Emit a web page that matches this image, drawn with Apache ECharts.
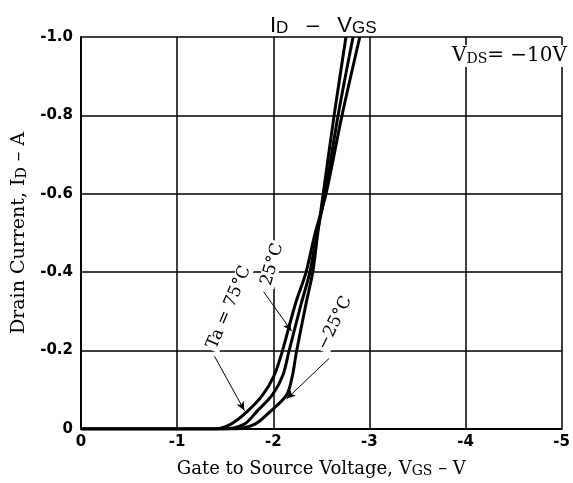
<!DOCTYPE html>
<html>
<head>
<meta charset="utf-8">
<script src="https://cdn.jsdelivr.net/npm/echarts@6/dist/echarts.min.js"></script>
<style>
  html, body { margin: 0; padding: 0; background: #fff; }
  #chart { width: 573px; height: 483px; }
</style>
</head>
<body>
<div id="chart"></div>
<script>
// ID - VGS transfer curves at VDS = -10V
const idLevels = [0, 0, -0.0125, -0.045, -0.087, -0.137, -0.195, -0.319, -0.399, -0.494, -0.601, -0.8, -1.0]
const vgsTa75 = [0, -1.39, -1.56, -1.73, -1.89, -2.01, -2.09, -2.23, -2.34, -2.43, -2.55, -2.715, -2.90]
const vgsTa25 = [0, -1.48, -1.70, -1.83, -1.99, -2.10, -2.16, -2.29, -2.38, -2.45, -2.54, -2.674, -2.83]
const vgsTaM25 = [0, -1.58, -1.81, -1.97, -2.14, -2.20, -2.24, -2.34, -2.41, -2.46, -2.52, -2.633, -2.756]
const tempLabels = ['Ta = 75°C', '25°C', '−25°C']

function pairs(xs) {
  return xs.map((x, i) => [x, idLevels[i]])
}

const serif = 'DejaVu Serif'
const sans = 'DejaVu Sans'

function leader(from, to, curveness) {
  return {
    silent: true,
    symbol: ['none', 'arrow'],
    symbolSize: [6, 9],
    label: { show: false },
    lineStyle: { color: '#000', width: 1, type: 'solid', curveness: curveness },
    data: [[{ coord: from }, { coord: to }]]
  }
}

function tag(text, at, rotate) {
  return {
    silent: true,
    symbol: 'circle',
    symbolSize: 0,
    label: {
      show: true, position: 'inside', formatter: text, rotate: rotate,
      color: '#000', fontFamily: serif, fontSize: 17,
      backgroundColor: '#fff', padding: [0, 2, 0, 2]
    },
    data: [{ coord: at }]
  }
}

// rich text styles with a lowered subscript
function richText(size, subSize, drop, family) {
  return {
    m: { fontFamily: family, fontSize: size, fontWeight: 'normal', lineHeight: size + 6, color: '#000', verticalAlign: 'bottom' },
    s: { fontFamily: family, fontSize: subSize, fontWeight: 'normal', color: '#000', padding: [drop, 0, 0, 0], verticalAlign: 'bottom' }
  }
}

const lineBase = {
  type: 'line',
  showSymbol: false,
  smooth: 0.3,
  lineStyle: { color: '#000', width: 3 },
  itemStyle: { color: '#000' },
  z: 3
}

const myChart = echarts.init(document.getElementById('chart'))
const option = {
  animation: false,
  backgroundColor: '#fff',
  title: [
    {
      text: '{m|I}{s|D}{m|   –   V}{s|GS}',
      left: 265, top: 4,
      textStyle: { fontWeight: 'normal', rich: richText(22, 17, 10, 'Liberation Sans') }
    },
    {
      text: '{m|V}{s|DS}{m|= −10V}',
      right: 4, top: 39,
      backgroundColor: '#fff',
      padding: [1, 2, 1, 2],
      textStyle: { fontWeight: 'normal', rich: richText(20, 14, 9, serif) }
    }
  ],
  grid: { left: 81, right: 4, top: 37, bottom: 45 },
  xAxis: {
    type: 'value',
    min: -5, max: 0, interval: 1,
    inverse: true,
    name: '{m|Gate to Source Voltage, V}{s|GS}{m| – V}',
    nameLocation: 'middle',
    nameGap: 25,
    nameTextStyle: { rich: richText(18, 14, 8, serif) },
    axisLine: { show: true, lineStyle: { color: '#000', width: 2 } },
    axisTick: { show: false },
    axisLabel: {
      color: '#000', fontFamily: sans, fontWeight: 'bold', fontSize: 15, margin: 6,
      formatter: v => (v === 0 ? '0' : String(v))
    },
    splitLine: { show: true, lineStyle: { color: '#000', width: 1.5 } }
  },
  yAxis: {
    type: 'value',
    min: -1, max: 0, interval: 0.2,
    inverse: true,
    name: '{m|Drain Current, I}{s|D}{m| – A}',
    nameLocation: 'middle',
    nameRotate: 90,
    nameGap: 52,
    nameTextStyle: { rich: richText(19, 14, 8, serif) },
    axisLine: { show: true, lineStyle: { color: '#000', width: 2 } },
    axisTick: { show: false },
    axisLabel: {
      color: '#000', fontFamily: sans, fontWeight: 'bold', fontSize: 15, margin: 8,
      formatter: v => (Math.abs(v) < 1e-9 ? '0' : v.toFixed(1))
    },
    splitLine: { show: true, lineStyle: { color: '#000', width: 1.5 } }
  },
  series: [
    Object.assign({}, lineBase, {
      name: tempLabels[0], data: pairs(vgsTa75),
      markPoint: tag(tempLabels[0], [-1.54, -0.31], 67),
      markLine: leader([-1.39, -0.185], [-1.70, -0.047], -0.3)
    }),
    Object.assign({}, lineBase, {
      name: tempLabels[1], data: pairs(vgsTa25),
      markPoint: tag(tempLabels[1], [-1.99, -0.42], 74),
      markLine: leader([-1.90, -0.35], [-2.19, -0.25], -0.2)
    }),
    Object.assign({}, lineBase, {
      name: tempLabels[2], data: pairs(vgsTaM25),
      markPoint: tag(tempLabels[2], [-2.64, -0.27], 64),
      markLine: leader([-2.58, -0.18], [-2.14, -0.077], 0.25)
    })
  ]
}
myChart.setOption(option)
</script>
</body>
</html>
